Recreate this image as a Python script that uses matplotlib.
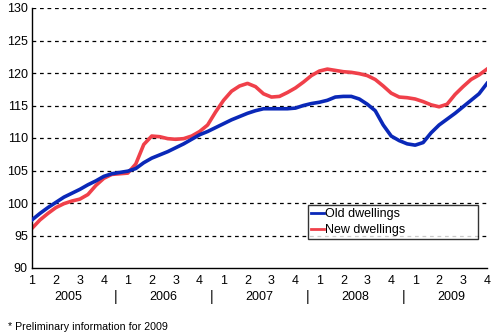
import numpy as np
import matplotlib
matplotlib.use("Agg")
import matplotlib.pyplot as plt

plt.rcParams['font.family'] = ['Liberation Sans', 'DejaVu Sans']

# Monthly index values, Jan 2005 .. (quarter positions 0..19)
OLD = [97.4, 98.4, 99.3, 100.1, 100.9, 101.5, 102.1, 102.8, 103.4, 104.1,
       104.5, 104.7, 104.9, 105.3, 106.2, 106.9, 107.4, 107.9, 108.5, 109.1,
       109.8, 110.5, 111.0, 111.6, 112.2, 112.8, 113.3, 113.8, 114.2, 114.5,
       114.5, 114.5, 114.5, 114.6, 115.0, 115.3, 115.5, 115.8, 116.3, 116.4,
       116.4, 116.0, 115.2, 114.2, 112.0, 110.3, 109.6, 109.1, 108.9, 109.3,
       110.8, 112.0, 112.9, 113.8, 114.8, 115.8, 116.8, 118.4]
NEW = [96.1, 97.4, 98.4, 99.3, 99.9, 100.3, 100.6, 101.3, 102.7, 103.8,
       104.4, 104.5, 104.6, 106.0, 109.0, 110.3, 110.2, 109.9, 109.8, 109.9,
       110.3, 111.0, 112.0, 114.0, 115.8, 117.2, 118.0, 118.4, 117.9, 116.8,
       116.3, 116.4, 117.0, 117.7, 118.6, 119.6, 120.3, 120.6, 120.4, 120.2,
       120.1, 119.9, 119.6, 119.0, 118.0, 116.9, 116.3, 116.2, 116.0, 115.6,
       115.1, 114.8, 115.2, 116.7, 117.9, 119.0, 119.7, 120.6]
YEARS = ["2005", "2006", "2007", "2008", "2009"]
QUARTERS = ["1", "2", "3", "4"]
YTICKS = [90, 95, 100, 105, 110, 115, 120, 125, 130]

x = np.arange(len(OLD)) / 3.0

fig = plt.figure(figsize=(4.99, 3.34), dpi=100)
fig.patch.set_facecolor("white")
ax = fig.add_axes([32 / 499, 1 - 268 / 334, 455 / 499, 260 / 334])

ax.plot(x, OLD, color="#0a28b8", lw=2.6, label="Old dwellings", zorder=3)
ax.plot(x, NEW, color="#f0404a", lw=2.6, label="New dwellings", zorder=2)

ax.set_xlim(0, 19)
ax.set_ylim(90, 130)
ax.set_yticks(YTICKS)
ax.tick_params(axis="y", length=0, labelsize=9, pad=3)
for y in YTICKS[1:]:
    ax.axhline(y, color="black", lw=0.9, ls=(0, (3, 3)), zorder=1)

ax.set_xticks(np.arange(20))
ax.set_xticklabels(QUARTERS * 5)
ax.tick_params(axis="x", length=0, labelsize=9, pad=5)

for s in ["top", "right"]:
    ax.spines[s].set_visible(False)
for s in ["left", "bottom"]:
    ax.spines[s].set_linewidth(1.0)

# year labels and separators beneath the quarter ticks
for i, yr in enumerate(YEARS):
    ax.text(4 * i + 1.5, -0.11, yr, transform=ax.get_xaxis_transform(),
            ha="center", va="center", fontsize=9)
    if i > 0:
        ax.text(4 * i - 0.5, -0.11, "|", transform=ax.get_xaxis_transform(),
                ha="center", va="center", fontsize=10)

leg = ax.legend(loc="lower left", bbox_to_anchor=(0.6066, 0.1115, 0.3736, 0.13),
                mode="expand", fontsize=9, frameon=True, fancybox=False,
                borderpad=0.25, handlelength=1.0, handletextpad=0.08,
                labelspacing=0.3, borderaxespad=0)
leg.get_frame().set_edgecolor("black")
leg.get_frame().set_linewidth(1.0)
for h in leg.get_lines():
    h.set_linewidth(2.0)
leg.set_zorder(5)

fig.text(8 / 499, 1 - 327 / 334, "* Preliminary information for 2009",
         fontsize=7.7, ha="left", va="center")

fig.savefig("out.png", dpi=100)
